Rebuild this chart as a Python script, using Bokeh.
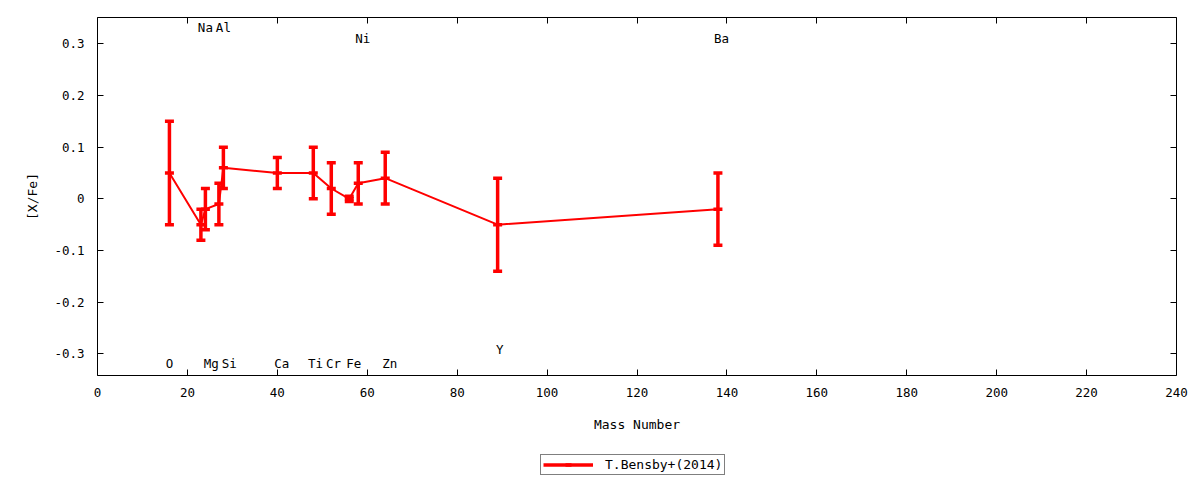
from bokeh.plotting import figure
from bokeh.layouts import column
from bokeh.models import (ColumnDataSource, Whisker, TeeHead, Range1d, FixedTicker,
                          LinearAxis, CustomJSTickFormatter, Legend, LegendItem)
from bokeh.core.properties import value
from bokeh.embed import file_html
from bokeh.resources import INLINE

# ---- data ----
elements = ["O", "Na", "Mg", "Al", "Si", "Ca", "Ti", "Cr", "Fe", "Ni", "Zn", "Y", "Ba"]
mass = [16, 23, 24, 27, 28, 40, 48, 52, 56, 58, 64, 89, 138]
xfe = [0.05, -0.05, -0.02, -0.01, 0.06, 0.05, 0.05, 0.02, 0.0, 0.03, 0.04, -0.05, -0.02]
err = [0.10, 0.03, 0.04, 0.04, 0.04, 0.03, 0.05, 0.05, 0.005, 0.04, 0.05, 0.09, 0.07]

# element label positions
label_x = [16, 24, 25.3, 28, 29.3, 41, 48.5, 52.5, 57, 59, 65, 89.5, 138.8]
label_y = [-0.319, 0.331, -0.319, 0.331, -0.319, -0.319, -0.319, -0.319, -0.319,
           0.311, -0.319, -0.292, 0.311]

x_ticks = list(range(0, 241, 20))
y_ticks = [-0.3, -0.2, -0.1, 0.0, 0.1, 0.2, 0.3]
series_name = "T.Bensby+(2014)"

FONT = "DejaVu Sans Mono"
RED = "#ff0000"

lower = [v - e for v, e in zip(xfe, err)]
upper = [v + e for v, e in zip(xfe, err)]
src = ColumnDataSource(dict(x=mass, y=xfe, lower=lower, upper=upper))
lab = ColumnDataSource(dict(x=label_x, y=label_y, t=elements))

p = figure(frame_width=1079, frame_height=358, output_backend="svg",
           toolbar_location=None,
           x_range=Range1d(0, 240), y_range=Range1d(-0.342, 0.351),
           min_border_left=97, min_border_right=16, min_border_top=17,
           min_border_bottom=70)
p.grid.visible = False
p.outline_line_color = "black"
p.outline_line_width = 1
p.background_fill_color = "white"
p.border_fill_color = "white"

xt = FixedTicker(ticks=x_ticks)
yt = FixedTicker(ticks=y_ticks)
yfmt = CustomJSTickFormatter(code="""
    if (Math.abs(tick) < 1e-9) return "0";
    return tick.toFixed(1);
""")
blank = CustomJSTickFormatter(code="return '';")

def style_axis(ax):
    ax.major_tick_in = 6
    ax.major_tick_out = 0
    ax.minor_tick_in = 0
    ax.minor_tick_out = 0
    ax.axis_line_color = None
    ax.major_tick_line_color = "black"
    ax.major_label_text_font = FONT
    ax.major_label_text_font_size = "12.5px"
    ax.major_label_text_color = "black"
    ax.axis_label_text_font = FONT
    ax.axis_label_text_font_size = "13px"
    ax.axis_label_text_font_style = "normal"
    ax.axis_label_text_color = "black"

xa = p.xaxis[0]
xa.ticker = xt
xa.axis_label = "Mass Number"
xa.major_label_standoff = 12
xa.axis_label_standoff = 17
style_axis(xa)

ya = p.yaxis[0]
ya.ticker = yt
ya.formatter = yfmt
ya.axis_label = "[X/Fe]"
ya.major_label_standoff = 13
ya.axis_label_standoff = 11
style_axis(ya)

top = LinearAxis(ticker=xt, formatter=blank)
style_axis(top)
top.major_label_standoff = 0
p.add_layout(top, "above")
right = LinearAxis(ticker=yt, formatter=blank)
style_axis(right)
right.major_label_standoff = 0
p.add_layout(right, "right")

# connecting line
ln = p.line("x", "y", source=src, line_color=RED, line_width=2)

# error bars
wh = Whisker(source=src, base="x", lower="lower", upper="upper", dimension="height",
             line_color=RED, line_width=3.5,
             upper_head=TeeHead(size=9, line_color=RED, line_width=3.5),
             lower_head=TeeHead(size=9, line_color=RED, line_width=3.5))
p.add_layout(wh)

# point markers (short horizontal dash)
pts = p.scatter("x", "y", source=src, marker="dash", size=9, line_color=RED,
                line_width=3.5)

# element labels
p.text("x", "y", text="t", source=lab, text_font=value(FONT), text_font_size="12.5px",
       text_align="center", text_baseline="middle", text_color="black")

# ---- legend strip (separate figure so the legend is not clipped) ----
p2 = figure(width=1192, height=35, output_backend="svg", toolbar_location=None,
            x_range=Range1d(1000, 1001), y_range=Range1d(1000, 1001),
            x_axis_type=None, y_axis_type=None, min_border=0)
p2.grid.visible = False
p2.outline_line_color = None
ln2 = p2.line("x", "y", source=src, line_color=RED, line_width=3.5)
pts2 = p2.scatter("x", "y", source=src, marker="dash", size=9, line_color=RED,
                  line_width=3.5)
legend = Legend(items=[LegendItem(label=series_name, renderers=[ln2, pts2])],
                location=(443, 5), orientation="horizontal",
                label_text_font=FONT, label_text_font_size="13px",
                label_text_color="black",
                border_line_color="black", border_line_width=1,
                background_fill_alpha=1.0, glyph_width=50, glyph_height=15,
                padding=2, margin=0, spacing=0, label_standoff=12,
                label_height=15)
p2.add_layout(legend, "center")

layout = column(p, p2, spacing=0)
open("out.html", "w").write(file_html(layout, INLINE))
